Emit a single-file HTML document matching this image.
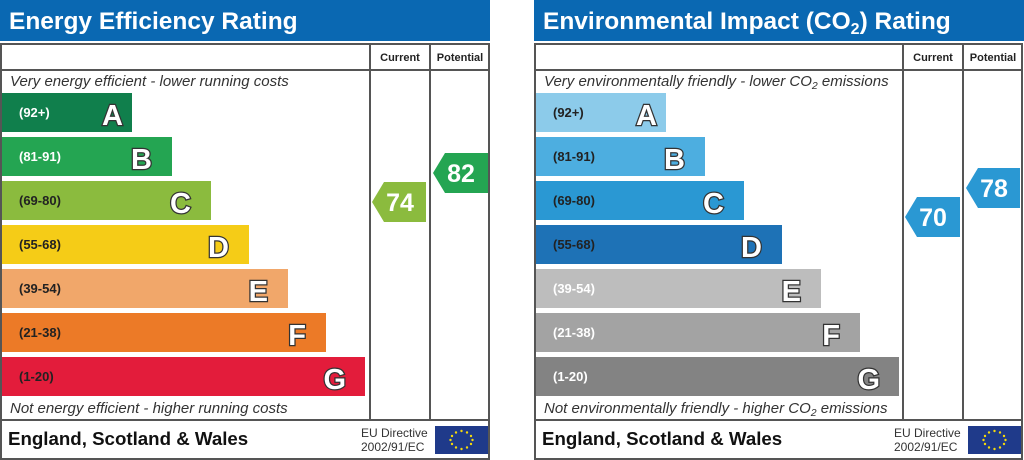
<!DOCTYPE html>
<html><head><meta charset="utf-8"><style>
html,body{margin:0;padding:0;background:#fff;}
svg{display:block;font-family:"Liberation Sans",Arial,sans-serif;}
.lt{font-weight:bold;font-size:29px;fill:#fff;stroke:#333;stroke-width:2.5px;paint-order:stroke;text-anchor:end;}
.rg{font-size:13px;fill:#fff;font-weight:bold;}
.rgd{font-size:13px;fill:#222;font-weight:bold;}
.it{font-style:italic;font-size:15px;fill:#333;}
.hd{font-weight:bold;font-size:11px;fill:#222;text-anchor:middle;}
.ft{font-weight:bold;font-size:18.7px;fill:#111;}
.eu{font-size:12px;fill:#333;}
.sc{font-weight:bold;font-size:25px;fill:#fff;text-anchor:middle;}
.tt{font-weight:bold;font-size:24.5px;fill:#fff;}
</style></head><body>
<svg width="1024" height="460" viewBox="0 0 1024 460">
<defs>
<g id="eu"><rect x="0" y="0" width="53" height="28" fill="#1f3a8a"/>
<g fill="#f5d90a">
<circle cx="26.5" cy="5" r="1.2"/><circle cx="32" cy="6.5" r="1.2"/><circle cx="36" cy="10" r="1.2"/><circle cx="37.5" cy="14" r="1.2"/><circle cx="36" cy="18" r="1.2"/><circle cx="32" cy="21.5" r="1.2"/><circle cx="26.5" cy="23" r="1.2"/><circle cx="21" cy="21.5" r="1.2"/><circle cx="17" cy="18" r="1.2"/><circle cx="15.5" cy="14" r="1.2"/><circle cx="17" cy="10" r="1.2"/><circle cx="21" cy="6.5" r="1.2"/>
</g></g>
</defs>

<!-- LEFT CHART -->
<rect x="0" y="0" width="490" height="41" fill="#0a68b2"/>
<text x="9" y="29" class="tt">Energy Efficiency Rating</text>
<rect x="1" y="44" width="488" height="415" fill="none" stroke="#555" stroke-width="2"/>
<line x1="1" y1="70" x2="489" y2="70" stroke="#555" stroke-width="2"/>
<line x1="370" y1="44" x2="370" y2="420" stroke="#555" stroke-width="2"/>
<line x1="430" y1="44" x2="430" y2="420" stroke="#555" stroke-width="2"/>
<line x1="1" y1="420" x2="489" y2="420" stroke="#555" stroke-width="2"/>
<text x="400" y="61" class="hd">Current</text>
<text x="460" y="61" class="hd">Potential</text>
<text x="10" y="86" class="it">Very energy efficient - lower running costs</text>
<rect x="2" y="93" width="130" height="39" fill="#107f4c"/>
<rect x="2" y="137" width="170" height="39" fill="#24a552"/>
<rect x="2" y="181" width="209" height="39" fill="#8bbb3e"/>
<rect x="2" y="225" width="247" height="39" fill="#f5cc17"/>
<rect x="2" y="269" width="286" height="39" fill="#f1a76a"/>
<rect x="2" y="313" width="324" height="39" fill="#ec7a27"/>
<rect x="2" y="357" width="363" height="39" fill="#e31c3b"/>
<text x="19" y="117" class="rg">(92+)</text>
<text x="19" y="161" class="rg">(81-91)</text>
<text x="19" y="205" class="rgd">(69-80)</text>
<text x="19" y="249" class="rgd">(55-68)</text>
<text x="19" y="293" class="rgd">(39-54)</text>
<text x="19" y="337" class="rgd">(21-38)</text>
<text x="19" y="381" class="rgd">(1-20)</text>
<text x="123" y="125" class="lt">A</text>
<text x="152" y="169" class="lt">B</text>
<text x="191" y="213" class="lt">C</text>
<text x="229" y="257" class="lt">D</text>
<text x="268" y="301" class="lt">E</text>
<text x="306" y="345" class="lt">F</text>
<text x="346" y="389" class="lt">G</text>
<text x="10" y="413" class="it">Not energy efficient - higher running costs</text>
<text x="8" y="445" class="ft">England, Scotland &amp; Wales</text>
<text x="361" y="437" class="eu">EU Directive</text>
<text x="361" y="451" class="eu">2002/91/EC</text>
<use href="#eu" x="435" y="426"/>
<polygon points="372,202 384,182 426,182 426,222 384,222" fill="#8bbb3e"/>
<text x="400" y="211" class="sc">74</text>
<polygon points="433,173 445,153 488,153 488,193 445,193" fill="#24a552"/>
<text x="461" y="182" class="sc">82</text>

<!-- RIGHT CHART -->
<rect x="534" y="0" width="490" height="41" fill="#0a68b2"/>
<text x="543" y="29" class="tt">Environmental Impact (CO<tspan font-size="16" dy="5">2</tspan><tspan dy="-5">) Rating</tspan></text>
<rect x="535" y="44" width="487" height="415" fill="none" stroke="#555" stroke-width="2"/>
<line x1="535" y1="70" x2="1022" y2="70" stroke="#555" stroke-width="2"/>
<line x1="903" y1="44" x2="903" y2="420" stroke="#555" stroke-width="2"/>
<line x1="963" y1="44" x2="963" y2="420" stroke="#555" stroke-width="2"/>
<line x1="535" y1="420" x2="1022" y2="420" stroke="#555" stroke-width="2"/>
<text x="933" y="61" class="hd">Current</text>
<text x="993" y="61" class="hd">Potential</text>
<text x="544" y="86" class="it">Very environmentally friendly - lower CO<tspan font-size="10.5" dy="3">2</tspan><tspan dy="-3"> emissions</tspan></text>
<rect x="536" y="93" width="130" height="39" fill="#8ccbea"/>
<rect x="536" y="137" width="169" height="39" fill="#4daee0"/>
<rect x="536" y="181" width="208" height="39" fill="#2a98d3"/>
<rect x="536" y="225" width="246" height="39" fill="#1e72b6"/>
<rect x="536" y="269" width="285" height="39" fill="#bdbdbd"/>
<rect x="536" y="313" width="324" height="39" fill="#a3a3a3"/>
<rect x="536" y="357" width="363" height="39" fill="#838383"/>
<text x="553" y="117" class="rgd">(92+)</text>
<text x="553" y="161" class="rgd">(81-91)</text>
<text x="553" y="205" class="rgd">(69-80)</text>
<text x="553" y="249" class="rgd">(55-68)</text>
<text x="553" y="293" class="rg">(39-54)</text>
<text x="553" y="337" class="rg">(21-38)</text>
<text x="553" y="381" class="rg">(1-20)</text>
<text x="657" y="125" class="lt">A</text>
<text x="685" y="169" class="lt">B</text>
<text x="724" y="213" class="lt">C</text>
<text x="762" y="257" class="lt">D</text>
<text x="801" y="301" class="lt">E</text>
<text x="840" y="345" class="lt">F</text>
<text x="880" y="389" class="lt">G</text>
<text x="544" y="413" class="it">Not environmentally friendly - higher CO<tspan font-size="10.5" dy="3">2</tspan><tspan dy="-3"> emissions</tspan></text>
<text x="542" y="445" class="ft">England, Scotland &amp; Wales</text>
<text x="894" y="437" class="eu">EU Directive</text>
<text x="894" y="451" class="eu">2002/91/EC</text>
<use href="#eu" x="968" y="426"/>
<polygon points="905,217 917,197 960,197 960,237 917,237" fill="#2a98d3"/>
<text x="933" y="226" class="sc">70</text>
<polygon points="966,188 978,168 1020,168 1020,208 978,208" fill="#2a98d3"/>
<text x="994" y="197" class="sc">78</text>
</svg>
</body></html>
